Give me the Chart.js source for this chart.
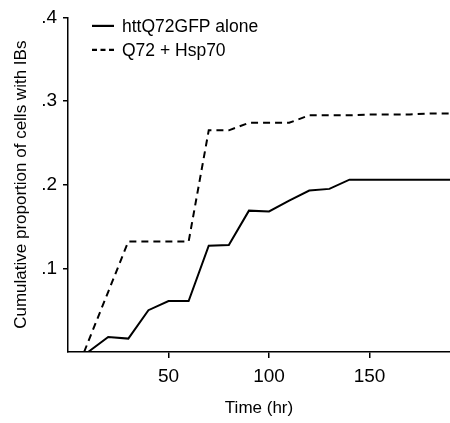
<!DOCTYPE html>
<html>
<head>
<meta charset="utf-8">
<script src="https://cdn.jsdelivr.net/npm/chart.js@4.4.1/dist/chart.umd.min.js"></script>
<style>
  html, body { margin: 0; padding: 0; background: #fff; }
  #wrap { width: 450px; height: 423px; }
</style>
</head>
<body>
<div id="wrap"><canvas id="ibChart" width="450" height="423"></canvas></div>
<script>
// values
const aloneHours = [10, 20, 30, 40, 50, 60, 70, 80, 90, 100, 110, 120, 130, 140, 150, 160, 170, 180, 190];
const aloneProp  = [0, 0.018, 0.016, 0.05, 0.061, 0.061, 0.127, 0.128, 0.169, 0.168, 0.181, 0.193, 0.195, 0.206, 0.206, 0.206, 0.206, 0.206, 0.206];
const hspHours = [8, 20, 30, 40, 50, 60, 70, 80, 90, 100, 110, 120, 130, 140, 150, 160, 170, 180, 190];
const hspProp  = [0, 0.072, 0.132, 0.132, 0.132, 0.132, 0.265, 0.265, 0.274, 0.274, 0.274, 0.283, 0.283, 0.283, 0.284, 0.284, 0.284, 0.285, 0.285];
const seriesNames = ["httQ72GFP alone", "Q72 + Hsp70"];

const FONT = "'Liberation Sans', Arial, sans-serif";

function toPoints(xs, ys) {
  return xs.map((x, i) => ({ x: x, y: ys[i] }));
}

function dropZero(scale) {
  scale.ticks = scale.ticks.filter((t) => Math.abs(t.value) > 1e-9);
}

// legend drawn inside the plot, top left
const insideLegend = {
  id: "insideLegend",
  afterDraw(chart) {
    const ctx = chart.ctx;
    const area = chart.chartArea;
    ctx.save();
    ctx.font = "17.5px " + FONT;
    ctx.fillStyle = "#000";
    ctx.textBaseline = "middle";
    chart.data.datasets.forEach((ds, i) => {
      const y = area.top + 8.5 + i * 24;
      const x0 = area.left + 24;
      ctx.strokeStyle = "#000";
      ctx.lineWidth = 2.2;
      ctx.setLineDash(i === 1 ? [5, 3.5] : []);
      ctx.beginPath();
      ctx.moveTo(x0, y);
      ctx.lineTo(x0 + 22, y);
      ctx.stroke();
      ctx.setLineDash([]);
      ctx.fillText(ds.label, x0 + 30, y + 1);
    });
    ctx.restore();
  },
};

new Chart(document.getElementById("ibChart"), {
  type: "line",
  data: {
    datasets: [
      {
        label: seriesNames[0],
        data: toPoints(aloneHours, aloneProp),
        borderColor: "#000",
        borderWidth: 2,
        pointRadius: 0,
        tension: 0,
      },
      {
        label: seriesNames[1],
        data: toPoints(hspHours, hspProp),
        borderColor: "#000",
        borderWidth: 2,
        borderDash: [7, 5],
        pointRadius: 0,
        tension: 0,
      },
    ],
  },
  plugins: [insideLegend],
  options: {
    responsive: false,
    animation: false,
    layout: { padding: { top: 14, right: 0, bottom: 4, left: 11 } },
    plugins: {
      legend: { display: false },
      tooltip: { enabled: false },
    },
    scales: {
      x: {
        type: "linear",
        min: 0,
        max: 190,
        afterBuildTicks: dropZero,
        afterFit(scale) { scale.height = 67; },
        ticks: {
          stepSize: 50,
          includeBounds: false,
          color: "#000",
          font: { family: FONT, size: 19 },
          padding: 7,
        },
        grid: { drawOnChartArea: false, tickLength: 6, color: "#000", lineWidth: 1.5 },
        border: { color: "#000", width: 1.5 },
        title: {
          display: true,
          text: "Time (hr)",
          color: "#000",
          font: { family: FONT, size: 17 },
          padding: { top: 2, bottom: 0 },
        },
      },
      y: {
        min: 0,
        max: 0.4,
        afterBuildTicks: dropZero,
        afterFit(scale) { scale.width = 57; },
        ticks: {
          stepSize: 0.1,
          color: "#000",
          font: { family: FONT, size: 19 },
          padding: 6,
          callback: (v) => v.toFixed(1).replace(/^0/, ""),
        },
        grid: { drawOnChartArea: false, tickLength: 5, color: "#000", lineWidth: 1.5 },
        border: { color: "#000", width: 1.5 },
        title: {
          display: true,
          text: "Cumulative proportion of cells with IBs",
          color: "#000",
          font: { family: FONT, size: 17 },
          padding: { top: 0, bottom: 4 },
        },
      },
    },
  },
});
</script>
</body>
</html>
